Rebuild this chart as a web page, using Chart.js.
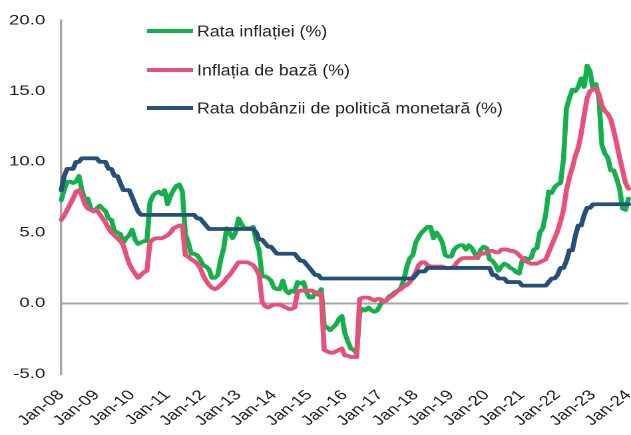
<!DOCTYPE html>
<html>
<head>
<meta charset="utf-8">
<script src="https://cdn.jsdelivr.net/npm/chart.js@4.4.1/dist/chart.umd.min.js"></script>
<style>
  html, body { margin: 0; padding: 0; background: #fff; overflow: hidden; }
  /* the source image is stretched horizontally, so draw narrow and scale */
  #wrap { width: 474px; height: 435px; transform: scaleX(1.3312); transform-origin: 0 0; }
</style>
</head>
<body>
<div id="wrap"><canvas id="chart"></canvas></div>
<script>
const monthNames = ['Jan','Feb','Mar','Apr','May','Jun','Jul','Aug','Sep','Oct','Nov','Dec'];
const yearCodes = ['08','09','10','11','12','13','14','15','16','17','18','19','20','21','22','23','24'];

// Rata inflatiei (%), monthly Jan-08 .. Jan-24
const inflation = [
  7.3, 8.0, 8.6, 8.6, 8.5, 8.6, 9.0, 8.0, 7.3, 7.4, 6.7, 6.5,
  6.7, 6.9, 6.7, 6.5, 6.0, 5.9, 5.1, 5.0, 4.9, 4.3, 4.6, 4.8,
  5.2, 4.5, 4.2, 4.3, 4.4, 4.4, 7.1, 7.6, 7.8, 7.9, 7.7, 8.0,
  7.0, 7.6, 8.0, 8.3, 8.4, 7.9, 4.9, 4.3, 3.5, 3.5, 3.4, 3.1,
  2.7, 2.6, 2.4, 1.8, 1.8, 2.0, 3.1, 3.9, 5.3, 5.0, 4.6, 5.0,
  6.0, 5.6, 5.3, 5.3, 5.3, 5.4, 4.4, 3.7, 1.9, 1.9, 1.8, 1.6,
  1.1, 1.0, 1.0, 1.6, 0.9, 0.7, 0.9, 0.8, 1.5, 1.4, 1.5, 0.8,
  0.4, 0.4, 0.8, 0.6, 1.0, -1.6, -1.7, -1.9, -1.7, -1.5, -1.1, -0.9,
  -2.1, -2.7, -3.2, -3.3, -3.5, -0.7, -0.4, -0.5, -0.3, -0.5, -0.6, -0.5,
  -0.1, 0.2, 0.2, 0.5, 0.6, 0.8, 0.9, 1.1, 1.7, 2.6, 3.2, 3.4,
  4.3, 4.7, 5.0, 5.2, 5.4, 5.4, 4.6, 5.0, 4.7, 4.3, 3.4, 3.3,
  3.3, 3.8, 4.0, 4.1, 4.1, 3.8, 4.1, 3.9, 3.5, 3.2, 3.8, 4.0,
  3.9, 3.1, 3.0, 2.7, 2.3, 2.6, 2.8, 2.7, 2.5, 2.4, 2.2, 2.1,
  3.0, 3.2, 3.1, 3.2, 3.8, 3.9, 5.0, 5.3, 6.3, 7.9, 7.8, 8.2,
  8.4, 8.5, 10.2, 13.8, 14.5, 15.1, 15.0, 15.3, 15.9, 15.3, 16.8, 16.4,
  15.1, 15.5, 14.5, 11.2, 10.6, 10.3, 9.4, 9.4, 8.8, 8.1, 6.7, 6.6,
  7.4
];

// Inflatia de baza (%)
const coreInflation = [
  5.9, 6.2, 6.6, 7.0, 7.4, 7.9, 8.0, 7.6, 7.0, 6.7, 6.6, 6.5,
  6.6, 6.3, 6.0, 5.7, 5.3, 5.0, 4.8, 4.6, 4.4, 4.1, 3.4, 2.8,
  2.4, 2.1, 1.8, 2.0, 2.2, 2.3, 4.3, 4.5, 4.6, 4.6, 4.6, 4.7,
  4.8, 5.0, 5.3, 5.4, 5.5, 5.5, 3.4, 3.3, 3.1, 3.0, 2.8, 2.5,
  2.0, 1.6, 1.3, 1.1, 1.0, 1.1, 1.3, 1.5, 1.8, 2.0, 2.3, 2.6,
  2.9, 2.9, 2.9, 2.9, 2.8, 2.7, 2.4, 2.0, 0.1, -0.2, -0.3, -0.2,
  -0.1, -0.1, -0.1, -0.2, -0.3, -0.4, -0.4, -0.3, 0.8, 0.9, 0.9, 0.9,
  0.9, 0.9, 0.7, 0.7, 0.7, -3.3, -3.4, -3.5, -3.5, -3.4, -3.3, -3.2,
  -3.7, -3.7, -3.8, -3.8, -3.8, 0.3, 0.4, 0.4, 0.4, 0.3, 0.2, 0.3,
  0.3, 0.1, 0.2, 0.4, 0.5, 0.7, 0.9, 1.0, 1.2, 1.3, 1.5, 1.8,
  2.2, 2.7, 2.9, 2.9, 2.7, 2.6, 2.6, 2.6, 2.6, 2.6, 2.5, 2.5,
  2.5, 2.6, 2.9, 3.1, 3.2, 3.2, 3.2, 3.2, 3.2, 3.3, 3.5, 3.5,
  3.6, 3.7, 3.7, 3.6, 3.6, 3.8, 3.8, 3.8, 3.7, 3.7, 3.6, 3.4,
  3.2, 3.0, 2.9, 2.8, 2.8, 2.8, 2.9, 3.0, 3.1, 3.6, 4.1, 4.6,
  5.1, 5.8, 6.6, 8.0, 8.9, 9.6, 10.4, 11.0, 12.0, 13.3, 14.5, 15.0,
  15.1, 15.2, 14.8, 14.0, 13.6, 13.4, 13.0, 12.2, 11.3, 10.3, 9.4, 8.5,
  8.1
];

// Rata dobanzii de politica monetara (%)
const policyRate = [
  8.0, 9.0, 9.5, 9.5, 9.5, 10.0, 10.0, 10.25, 10.25, 10.25, 10.25, 10.25,
  10.25, 10.0, 10.0, 10.0, 9.5, 9.5, 9.0, 9.0, 8.5, 8.0, 8.0, 8.0,
  7.5, 7.0, 6.5, 6.25, 6.25, 6.25, 6.25, 6.25, 6.25, 6.25, 6.25, 6.25,
  6.25, 6.25, 6.25, 6.25, 6.25, 6.25, 6.25, 6.25, 6.25, 6.25, 6.0, 6.0,
  5.75, 5.5, 5.25, 5.25, 5.25, 5.25, 5.25, 5.25, 5.25, 5.25, 5.25, 5.25,
  5.25, 5.25, 5.25, 5.25, 5.25, 5.25, 5.0, 4.5, 4.5, 4.25, 4.0, 4.0,
  3.75, 3.5, 3.5, 3.5, 3.5, 3.5, 3.5, 3.5, 3.25, 3.0, 3.0, 2.75,
  2.5, 2.25, 2.0, 2.0, 1.75, 1.75, 1.75, 1.75, 1.75, 1.75, 1.75, 1.75,
  1.75, 1.75, 1.75, 1.75, 1.75, 1.75, 1.75, 1.75, 1.75, 1.75, 1.75, 1.75,
  1.75, 1.75, 1.75, 1.75, 1.75, 1.75, 1.75, 1.75, 1.75, 1.75, 1.75, 1.75,
  2.0, 2.25, 2.25, 2.25, 2.5, 2.5, 2.5, 2.5, 2.5, 2.5, 2.5, 2.5,
  2.5, 2.5, 2.5, 2.5, 2.5, 2.5, 2.5, 2.5, 2.5, 2.5, 2.5, 2.5,
  2.5, 2.5, 2.0, 2.0, 1.75, 1.75, 1.75, 1.5, 1.5, 1.5, 1.5, 1.5,
  1.25, 1.25, 1.25, 1.25, 1.25, 1.25, 1.25, 1.25, 1.25, 1.5, 1.75, 1.75,
  2.0, 2.5, 2.5, 3.0, 3.75, 3.75, 4.75, 5.5, 5.5, 6.25, 6.75, 6.75,
  7.0, 7.0, 7.0, 7.0, 7.0, 7.0, 7.0, 7.0, 7.0, 7.0, 7.0, 7.0,
  7.0
];

const seriesNames = [
  'Rata inflației (%)',
  'Inflația de bază (%)',
  'Rata dobânzii de politică monetară (%)'
];

// month categories, only January gets a visible tick label
const labels = [];
yearCodes.forEach((yy, y) => {
  monthNames.forEach((m, i) => {
    if (y < yearCodes.length - 1 || i === 0) labels.push(m + '-' + yy);
  });
});

// legend drawn inside the plot, stacked vertically
const innerLegend = {
  id: 'innerLegend',
  afterDraw(chart) {
    const ctx = chart.ctx;
    const rows = [31, 70, 108];
    ctx.save();
    chart.data.datasets.forEach((ds, i) => {
      const y = rows[i];
      ctx.strokeStyle = ds.borderColor;
      ctx.lineWidth = 4;
      ctx.beginPath();
      ctx.moveTo(110.5, y);
      ctx.lineTo(145, y);
      ctx.stroke();
      ctx.save();
      ctx.translate(148, y + 1);
      ctx.scale(0.86, 1);
      ctx.fillStyle = '#222222';
      ctx.font = '15.5px "Liberation Sans", Arial, sans-serif';
      ctx.textBaseline = 'middle';
      ctx.textAlign = 'left';
      ctx.fillText(ds.label, 0, 0);
      ctx.restore();
    });
    ctx.restore();
  }
};

const lineStyle = { borderWidth: 3.8, pointRadius: 0, tension: 0, borderJoinStyle: 'round', borderCapStyle: 'round', fill: false };

new Chart(document.getElementById('chart'), {
  type: 'line',
  data: {
    labels: labels,
    datasets: [
      { label: seriesNames[0], data: inflation, borderColor: '#13b04b', order: 2, ...lineStyle },
      { label: seriesNames[1], data: coreInflation, borderColor: '#e8507a', order: 1, ...lineStyle },
      { label: seriesNames[2], data: policyRate, borderColor: '#25507a', order: 0, ...lineStyle }
    ]
  },
  options: {
    responsive: true,
    maintainAspectRatio: false,
    animation: false,
    devicePixelRatio: 2,
    layout: { padding: { top: 17, right: 1, bottom: 0, left: 0 } },
    plugins: { legend: { display: false }, tooltip: { enabled: false } },
    scales: {
      x: {
        grid: { display: false, drawTicks: false },
        border: { display: false },
        ticks: {
          autoSkip: false,
          minRotation: 45,
          maxRotation: 45,
          padding: 13,
          color: '#1a1a1a',
          font: { family: '"Liberation Sans", Arial, sans-serif', size: 14 },
          callback: (v, i) => (i % 12 === 0 ? labels[i] : '')
        },
        afterFit(scale) {
          scale.height = 61;
          scale.paddingLeft = 0;
          scale.paddingRight = 0;
        }
      },
      y: {
        min: -5,
        max: 20,
        grid: {
          drawTicks: false,
          lineWidth: 2,
          color: c => (c.tick && c.tick.value === 0 ? '#a6a6a6' : 'rgba(0,0,0,0)')
        },
        border: { display: true, color: '#a6a6a6', width: 1.7 },
        ticks: {
          stepSize: 5,
          padding: 12,
          color: '#1a1a1a',
          font: { family: '"Liberation Sans", Arial, sans-serif', size: 14 },
          callback: v => v.toFixed(1)
        },
        afterFit(scale) {
          scale.width = 46;
        }
      }
    }
  },
  plugins: [innerLegend]
});
</script>
</body>
</html>
